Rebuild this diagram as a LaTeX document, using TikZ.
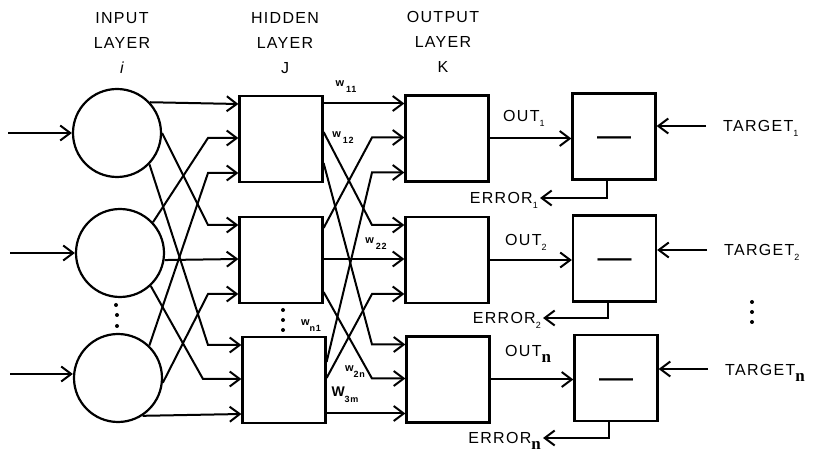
\documentclass[tikz,border=0pt]{standalone}
\usepackage{fontspec}
\setmainfont{Liberation Sans}
\newfontfamily\hand[LetterSpace=8]{Liberation Sans}
\newfontfamily\serifn{Liberation Serif}
\usetikzlibrary{arrows.meta,calc}
\newcommand{\dsub}[1]{\raisebox{-5pt}{\fontsize{9}{9}\selectfont #1}}
\newcommand{\wsub}[1]{\raisebox{-6pt}{\fontsize{9}{9}\selectfont\bfseries #1}}
\newcommand{\nsub}{\raisebox{-6pt}{\serifn\fontsize{17}{17}\selectfont\bfseries n}}
\begin{document}
\begin{tikzpicture}[x=1pt,y=-1pt,
  wire/.style={line width=2pt},
  arr/.style={wire,-{Straight Barb[length=10pt,width=15pt]}},
  neuron/.style={draw,line width=2.2pt,circle,minimum size=88pt,inner sep=0pt},
  unit/.style={draw,line width=2.2pt,minimum width=83pt,minimum height=86pt,inner sep=0pt},
  lbl/.style={inner sep=0pt,font=\hand\fontsize{16}{25}\selectfont},
  wlab/.style={inner sep=0pt,font=\hand\fontsize{11}{11}\selectfont\bfseries},
  minus/.style={inner sep=0pt,font=\fontsize{34}{34}\selectfont}
]
\useasboundingbox (0,0) rectangle (823,462);

% headers
\node[lbl,align=center,anchor=north] (hin) at (122,12) {INPUT\\LAYER\\{\itshape i}};
\node[lbl,align=center,anchor=north] (hhid) at (285,12) {HIDDEN\\LAYER\\J};
\node[lbl,align=center,anchor=north] (hout) at (443,11) {OUTPUT\\LAYER\\K};

% input neurons
\node[neuron] (c1) at (117,133) {};
\node[neuron] (c2) at (120,253) {};
\node[neuron] (c3) at (118,378) {};

% hidden units
\node[unit] (h1) at (281,139) {};
\node[unit] (h2) at (281,260) {};
\node[unit] (h3) at (284,380) {};

% output units
\node[unit] (o1) at (447,138.5) {};
\node[unit] (o2) at (447,260) {};
\node[unit] (o3) at (448,379.5) {};

% subtractors
\node[unit] (s1) at (614,136.5) {};
\node[unit] (s2) at (614.5,258.5) {};
\node[unit] (s3) at (616,378) {};
\node[minus] (m1) at (614,142) {—};
\node[minus] (m2) at (614.5,264) {—};
\node[minus] (m3) at (616,384) {—};

% entry points
\foreach \nd in {h1,h2,h3,o1,o2,o3}{
  \coordinate (\nd a) at ($(\nd.west)+(0,-35)$);
  \coordinate (\nd b) at ($(\nd.west)+(0,-1)$);
  \coordinate (\nd c) at ($(\nd.west)+(0,34)$);
}
\coordinate (bA) at (208,0);
\coordinate (bA2) at (203,0);
\coordinate (bB) at (372,0);

% network inputs
\coordinate (in1) at (8,133);
\coordinate (in2) at (10,253);
\coordinate (in3) at (10,374);
\draw[arr] (in1) -- (c1.west);
\draw[arr] (in2) -- (c2.west);
\draw[arr] (in3) -- (in3 -| c3.west);

% input -> hidden
\draw[arr] (c1.43) -- (h1a);
\draw[arr] (c1.east) -- (h2a -| bA) -- (h2a);
\draw[arr] (c1.-44) -- (h3a -| bA) -- (h3a);
\draw[arr] (c2.43) -- (h1b -| bA) -- (h1b);
\draw[arr] (c2.-9) -- (h2b);
\draw[arr] (c2.-47) -- (h3b -| bA2) -- (h3b);
\draw[arr] (c3.46) -- (h1c -| bA) -- (h1c);
\draw[arr] (c3.-6) -- (h2c -| bA) -- (h2c);
\draw[arr] (c3.-57) -- (h3c);

% hidden -> output
\draw[arr] (h1.east |- o1a) -- (o1a);
\draw[arr] ([yshift=7pt]h1.east) -- (o2a -| bB) -- (o2a);
\draw[arr] ([yshift=-24pt]h1.east) -- (o3a -| bB) -- (o3a);
\draw[arr] ([yshift=32pt]h2.east) -- (o1b -| bB) -- (o1b);
\draw[arr] (h2.east |- o2b) -- (o2b);
\draw[arr] ([yshift=-32pt]h2.east) -- (o3b -| bB) -- (o3b);
\draw[arr] ([yshift=18pt]h3.east) -- (o1c -| bB) -- (o1c);
\draw[arr] ([yshift=2pt]h3.east) -- (o2c -| bB) -- (o2c);
\draw[arr] (h3.east |- o3c) -- (o3c);

% weight labels
\node[wlab] (w11) at (346,87) {w\,\wsub{11}};
\node[wlab] (w12) at (343,138) {w\,\wsub{12}};
\node[wlab] (w22) at (376,244) {w\,\wsub{22}};
\node[wlab] (wn1) at (311,326) {w\wsub{n1}};
\node[wlab] (w2n) at (355,372) {w\wsub{2n}};
\node[wlab,font=\hand\fontsize{14}{14}\selectfont\bfseries] (w3m) at (345,395) {W\wsub{3m}};

% outputs to subtractors
\draw[arr] (o1.east) -- (o1.east -| s1.west);
\draw[arr] (o2.east) -- (o2.east -| s2.west);
\draw[arr] (o3.east) -- (o3.east -| s3.west);
\node[lbl,anchor=base west] (out1) at (503,122) {OUT\dsub{1}};
\node[lbl,anchor=base west] (out2) at (505,246) {OUT\dsub{2}};
\node[lbl,anchor=base west] (out3) at (505,357) {OUT\nsub};

% targets
\coordinate (t1s) at (706,126);
\coordinate (t2s) at (707,250);
\coordinate (t3s) at (708,369);
\draw[arr] (t1s) -- (t1s -| s1.east);
\draw[arr] (t2s) -- (t2s -| s2.east);
\draw[arr] (t3s) -- (t3s -| s3.east);
\node[lbl,anchor=base west] (tg1) at (723,132) {TARGET\dsub{1}};
\node[lbl,anchor=base west] (tg2) at (724,256) {TARGET\dsub{2}};
\node[lbl,anchor=base west] (tg3) at (725,376) {TARGET\nsub};

% errors
\coordinate (e1) at (540,198);
\coordinate (e2) at (543,318);
\coordinate (e3) at (543,438);
\draw[arr] ([xshift=-7pt]s1.south) |- (e1);
\draw[arr] ([xshift=-7pt]s2.south) |- (e2);
\draw[arr] ([xshift=-7pt]s3.south) |- (e3);
\node[lbl,anchor=base east] (er1) at (538,204) {ERROR\dsub{1}};
\node[lbl,anchor=base east] (er2) at (541,324) {ERROR\dsub{2}};
\node[lbl,anchor=base east] (er3) at (541,444) {ERROR\nsub};

% ellipsis dots
\foreach \p in {(116,305),(117,315),(117,326),(283,310),(283,320),(283,330),(752,302),(752,312),(752,322)}
  \fill \p circle (2pt);
\end{tikzpicture}
\end{document}
